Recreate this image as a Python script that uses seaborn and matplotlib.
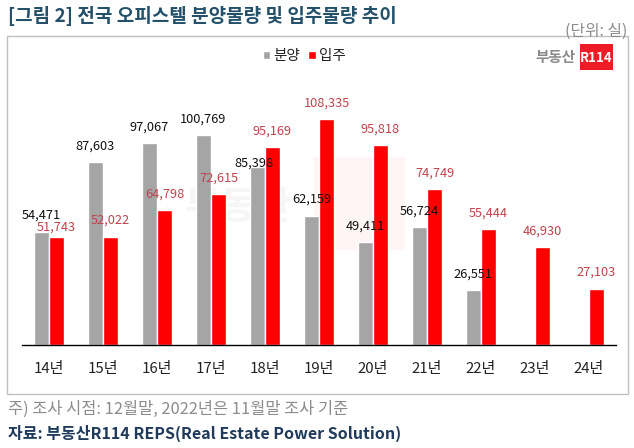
import numpy as np
import pandas as pd
import matplotlib
matplotlib.use("Agg")
import matplotlib.pyplot as plt
from matplotlib.patches import Rectangle
import seaborn as sns

# ---- data ----
years = ['14년', '15년', '16년', '17년', '18년', '19년', '20년', '21년', '22년', '23년', '24년']
sale = [54471, 87603, 97067, 100769, 85398, 62159, 49411, 56724, 26551, np.nan, np.nan]
move = [51743, 52022, 64798, 72615, 95169, 108335, 95818, 74749, 55444, 46930, 27103]
series_names = ['분양', '입주']

title = '[그림 2] 전국 오피스텔 분양물량 및 입주물량 추이'
unit = '(단위: 실)'
note = '주) 조사 시점: 12월말, 2022년은 11월말 조사 기준'
source = '자료: 부동산R114 REPS(Real Estate Power Solution)'

df = pd.DataFrame({
    '연도': years * 2,
    '구분': [series_names[0]] * len(years) + [series_names[1]] * len(years),
    '물량': sale + move,
})

sns.set_theme(style='white')
plt.rcParams['font.family'] = ['Noto Sans CJK KR', 'DejaVu Sans']

W, H = 634, 448
fig = plt.figure(figsize=(W / 100, H / 100), dpi=100)

def fx(px):
    return px / W

def fy(py):
    return 1 - py / H

ax = fig.add_axes([fx(22), fy(345), fx(616) - fx(22), fy(95) - fy(345)])
ax.set_facecolor('none')

GRAY = '#A5A5A5'
RED = '#FF0000'
LABEL_RED = '#C0434C'

sns.barplot(data=df, x='연도', y='물량', hue='구분', order=years,
            hue_order=series_names, palette=[GRAY, RED], width=0.56,
            saturation=1, ax=ax, legend=True)

ax.set_ylim(0, 120000)
ax.set_xlim(-0.5, len(years) - 0.5)
ax.set_xlabel('')
ax.set_ylabel('')
ax.set_yticks([])
for s in ['top', 'right', 'left']:
    ax.spines[s].set_visible(False)
ax.spines['bottom'].set_color('black')
ax.spines['bottom'].set_linewidth(1.0)

ax.set_xticks(range(len(years)))
ax.set_xticklabels(years, fontsize=10.8, color='#222222')
ax.tick_params(axis='x', which='major', length=0, pad=12)
ax.set_xticks(np.arange(-0.5, len(years) + 0.5, 1), minor=True)
ax.tick_params(axis='x', which='minor', length=7, direction='inout', width=0.8, color='black')

# value labels (offset in pixels above bar top)
special = {(0, 1): (0, 10), (4, 0): (-4, 4)}
for si, cont in enumerate(ax.containers):
    color = '#111111' if si == 0 else LABEL_RED
    for bar in cont:
        h = bar.get_height()
        if h is None or np.isnan(h) or h == 0:
            continue
        cx = bar.get_x() + bar.get_width() / 2
        idx = int(round(cx))
        dx, dy = special.get((idx, si), (0, 16))
        ax.annotate(f'{int(h):,}', xy=(cx, h), xytext=(dx, dy),
                    textcoords='offset pixels', ha='center', va='center',
                    fontsize=9.2, color=color)

# legend
leg = ax.legend(loc='center', bbox_to_anchor=(fx(304), fy(56)),
                bbox_transform=fig.transFigure, ncol=2, frameon=False,
                handlelength=0.5, handleheight=0.5, handletextpad=0.2,
                columnspacing=0.6, fontsize=10.5)
for t in leg.get_texts():
    t.set_color('#222222')

# frame box
fig.patches.append(Rectangle((fx(7), fy(394)), fx(628) - fx(7), fy(36) - fy(394),
                             transform=fig.transFigure, fill=False,
                             edgecolor='#C0C0C0', linewidth=1.0))

# watermark (faint)
fig.text(fx(238), fy(207), '부동산', fontsize=28, fontweight='bold',
         color='#000000', alpha=0.035, ha='center', va='center', zorder=-1)
fig.patches.append(Rectangle((fx(314), fy(250)), fx(405) - fx(314), fy(157) - fy(250),
                             transform=fig.transFigure, facecolor='#FF0000',
                             alpha=0.04, edgecolor='none', zorder=-1))

# titles and notes
fig.text(fx(8), fy(16), title, fontsize=13.7, fontweight='bold', color='#24506A',
         ha='left', va='center')
fig.text(fx(627), fy(31), unit, fontsize=11.4, color='#8C8C8C', ha='right', va='center')
fig.text(fx(8), fy(409), note, fontsize=11.8, color='#8C8C8C', ha='left', va='center')
fig.text(fx(8), fy(433), source, fontsize=11.5, fontweight='bold', color='#1F3A5A',
         ha='left', va='center')

# logo
fig.text(fx(576), fy(57), '부동산', fontsize=10.5, fontweight='bold', color='#8A8A8A',
         ha='right', va='center')
fig.patches.append(Rectangle((fx(580), fy(70)), fx(613) - fx(580), fy(44) - fy(70),
                             transform=fig.transFigure, facecolor='#EE1C25',
                             edgecolor='none'))
fig.text(fx(596.5), fy(57.5), 'R114', fontsize=9.5, fontweight='bold', color='white',
         ha='center', va='center')

fig.savefig('out.png', dpi=100)
